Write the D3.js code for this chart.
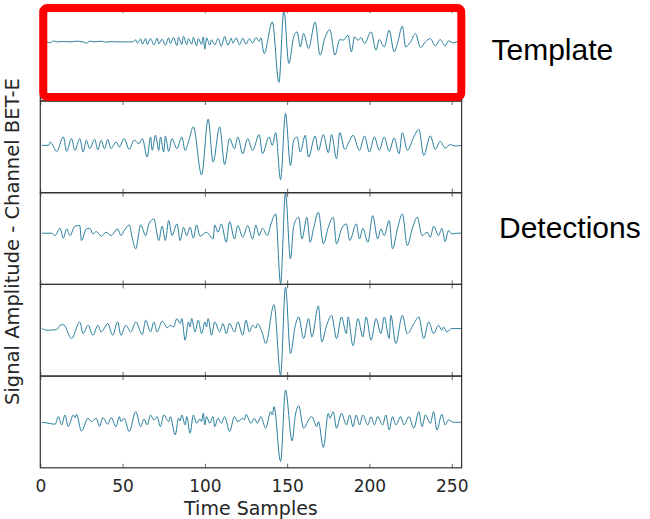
<!DOCTYPE html>
<html>
<head>
<meta charset="utf-8">
<script src="https://cdnjs.cloudflare.com/ajax/libs/d3/7.8.5/d3.min.js"></script>
<style>
  body { margin: 0; background: #fff; }
  .axis-label { font-family: "DejaVu Sans", sans-serif; font-size: 19px; fill: #262626; }
  .ylabel { font-size: 19.5px; }
  .tick-labels text { font-family: "DejaVu Sans", sans-serif; font-size: 17px; fill: #262626; }
  .side-text { font-family: "Liberation Sans", Arial, sans-serif; font-size: 30px; fill: #000; }
</style>
</head>
<body>
<div id="chart-area"></div>
<script>

// SVG size
var width = 650,
    height = 519;

// x axis
var xLimit = [0, 256];
var xTicks = [0, 50, 100, 150, 200, 250];

// waveforms, [sample, amplitude] read at the turning points
var template = [[1,0],[4,0],[6,-0.3],[8,0.3],[10,0],[14,0.1],[18,0],[22,0.2],[26,0],[28,-0.4],[30,0.2],[33,0],[37,0.2],[40,-0.1],[43,0.1],[46,0],[56,0],
  [58,0.6],[59,-0.4],[61,0.9],[62,-0.7],[64,1.0],[65,-0.8],[67,1.0],[69,-0.9],[71,1.1],[72,-0.6],[74,0.8],[76,-1.0],[78,1.2],[79,-0.5],[81,1.3],[83,-1.1],
  [84,1.4],[86,-0.8],[87,1.7],[89,-0.9],[90,1.0],[92,-0.7],[93,1.4],[95,-1.2],[96,1.0],[98,-0.8],[99,1.5],[100,-2.2],[101,1.2],[103,-1.0],[104,0.6],
  [106,-0.9],[108,1.0],[110,-1.3],[112,1.6],[114,-1.0],[116,1.1],[117,-0.4],[119,1.2],[121,-0.9],[123,1.1],[125,-0.7],[127,1.0],[129,-0.4],[131,1.3],
  [133,0.2],[134,1.2],[136,-3.5],[141,6.0],[145,-12.2],[148,9.6],[151,-6.5],[154,1.5],[156,3.0],[158,-1.5],[160,2.5],[163,-2.0],[167,6.0],[170,-4.0],
  [173,1.3],[176,3.7],[179,-4.0],[182,0.7],[184,0.5],[187,2.0],[189,-3.0],[191,1.5],[193,0.5],[195,1.3],[197,-0.5],[201,3.0],[204,-2.5],[206,0.7],
  [209,-1.5],[212,3.5],[215,-3.0],[217,-0.5],[220,4.7],[222,-1.5],[225,0],[228,2.5],[231,-1.7],[234,0],[237,1.0],[240,-1.2],[243,0.7],[246,-1.2],
  [248,0.3],[251,-0.3],[253,0],[256,0]];

var detection1 = [[1,0],[5,0],[6,1.0],[10,-1.8],[14,2.5],[16,-1.8],[19,2.0],[21,-1.5],[24,2.0],[26,-2.0],[28,1.5],[30,-1.0],[33,1.8],[35,-1.3],[37,1.5],
  [39,-1.0],[41,1.8],[43,-1.0],[46,1.0],[48,-0.5],[51,2.0],[54,-1.2],[57,1.5],[60,0.5],[62,2.0],[65,-3.5],[67,2.5],[68,-1.5],[70,3.0],[72,-1.5],[73,2.5],
  [75,-2.0],[76,2.8],[78,-1.8],[80,2.0],[83,-1.0],[86,2.5],[88,-1.5],[90,1.0],[93,5.5],[98,-8.8],[102,7.8],[105,-5.0],[109,5.5],[112,-5.7],[115,2.0],
  [118,-1.0],[120,2.5],[123,-2.5],[126,2.0],[129,-1.5],[133,3.2],[135,-2.5],[139,2.5],[141,0],[143,3.8],[146,-10.2],[149,9.5],[152,-6.0],[154,1.5],
  [156,2.5],[158,-2.0],[161,3.0],[163,-3.5],[167,2.8],[169,-1.5],[172,3.2],[175,-2.2],[177,3.2],[180,-4.0],[182,3.8],[185,-1.2],[188,1.5],[190,3.0],
  [194,-1.5],[197,2.8],[200,-2.0],[203,2.5],[206,-1.5],[209,2.5],[212,-1.8],[215,2.2],[218,-2.5],[220,3.8],[223,-1.5],[227,2.5],[230,4.8],[233,-3.0],
  [237,2.8],[240,-1.2],[243,1.2],[246,-0.8],[249,0.2],[252,-0.2],[256,0]];

var detection2 = [[1,0],[7,0],[9,-0.7],[12,1.5],[14,-1.5],[16,1.3],[18,-0.7],[21,2.1],[24,2.3],[25,-2.2],[28,1.3],[30,1.5],[32,-0.2],[34,0.5],[37,-0.9],
  [40,0.3],[43,-0.7],[47,1.3],[49,-0.7],[51,0.8],[54,2.5],[56,-1.7],[58,-4.7],[61,2.5],[64,-0.7],[66,2.8],[69,4.3],[72,-2.2],[74,2.1],[76,-2.2],[78,3.8],
  [80,-0.7],[83,2.8],[85,-2.2],[87,1.8],[89,-0.7],[91,1.8],[93,-1.5],[95,2.5],[97,-0.9],[101,0.3],[105,-1.7],[106,2.5],[108,0.3],[110,2.8],[113,-2.7],
  [115,3.5],[118,-1.7],[120,2.3],[123,-1.2],[126,2.3],[129,-1.7],[131,2.5],[133,-0.7],[135,1.5],[138,-0.7],[140,2.5],[143,5.8],[146,-15.2],[149,12.1],
  [152,-7.7],[154,2.3],[157,4.8],[159,-1.7],[162,4.8],[164,-2.7],[166,1.3],[169,6.3],[172,-3.2],[175,1.8],[178,4.8],[180,-3.2],[183,1.3],[186,2.8],
  [188,-2.2],[192,2.8],[194,-1.7],[196,1.5],[199,-2.7],[202,5.3],[205,-1.7],[207,1.3],[209,-0.7],[212,3.8],[214,-4.7],[217,1.3],[220,5.8],[223,-3.7],
  [226,1.3],[229,4.8],[232,-0.7],[235,0.3],[237,-1.2],[239,2.1],[242,-0.7],[244,1.5],[246,-2.5],[248,0.8],[250,-0.2],[253,0],[256,0]];

var detection3 = [[1,0],[4,-0.5],[10,-0.3],[12,1.0],[14,1.2],[19,-3.0],[24,2.0],[26,-1.5],[29,1.0],[32,-2.0],[35,1.0],[37,-1.0],[41,1.5],[44,-2.0],
  [47,2.0],[49,-2.0],[52,1.0],[55,-1.0],[58,2.0],[62,-1.8],[64,2.5],[67,-1.0],[69,2.0],[71,-1.0],[74,2.2],[76,1.0],[77,0.2],[79,1.0],[81,0.5],[83,3.0],
  [85,1.5],[86,3.0],[88,-3.5],[90,2.0],[91,0.5],[92,3.0],[94,-1.0],[96,2.5],[98,-1.5],[100,2.0],[101,0.5],[102,3.0],[104,-2.0],[106,2.0],[109,-1.0],
  [111,1.5],[113,-1.5],[115,1.5],[118,-1.0],[120,2.0],[123,-2.0],[125,2.5],[127,-1.0],[129,1.0],[131,0.2],[132,1.5],[135,-1.5],[137,-4.5],[142,7.2],
  [146,-14.0],[149,12.5],[152,-7.5],[155,1.0],[157,3.5],[160,-3.0],[163,3.0],[165,-2.5],[169,6.8],[171,-4.0],[174,1.0],[177,4.0],[180,-3.0],[183,3.5],
  [186,-1.5],[187,3.5],[190,-5.2],[193,3.0],[196,-2.5],[198,3.5],[201,-3.5],[204,3.0],[207,-1.5],[209,3.5],[212,-3.0],[213,4.0],[216,-4.5],[220,4.0],
  [223,-1.5],[227,1.5],[230,3.5],[233,-3.0],[236,2.0],[239,-1.5],[242,1.0],[244,-0.5],[245,0.5],[247,-1.0],[250,0],[256,0]];

var detection4 = [[1,0],[4,-0.2],[9,-0.6],[11,1.7],[13,-0.8],[15,2.2],[17,-1.3],[20,2.2],[21,1.4],[22,2.4],[25,-2.6],[29,1.2],[31,0.2],[34,1.2],[36,-1.3],
  [38,1.4],[41,-0.6],[43,1.4],[46,-1.3],[48,1.7],[49,0.2],[51,1.2],[54,-2.8],[58,3.2],[61,-1.3],[63,1.0],[65,-0.8],[67,2.2],[69,0.7],[71,1.7],[73,-1.3],
  [75,2.2],[78,0.2],[79,1.7],[82,-3.8],[84,1.2],[85,0.4],[86,2.2],[88,-0.8],[89,1.7],[91,-3.3],[93,2.2],[95,-0.3],[97,1.0],[98,0.2],[99,2.7],[100,-0.8],
  [101,1.7],[103,-0.3],[105,1.7],[106,-1.3],[108,1.2],[110,-0.3],[112,1.7],[115,-2.8],[118,1.7],[120,0.2],[123,1.2],[124,0.7],[125,2.4],[128,-0.3],
  [130,1.2],[132,-0.3],[134,1.7],[137,-1.8],[140,3.2],[141,2.2],[142,4.7],[146,-11.8],[149,9.7],[153,-5.6],[155,2.2],[157,5.0],[160,-1.8],[163,0.7],
  [165,1.7],[168,-1.3],[169,0.2],[172,-7.6],[175,2.7],[176,1.2],[178,3.2],[180,-1.8],[183,2.7],[186,-0.8],[188,2.2],[190,-1.3],[192,2.2],[194,-0.8],
  [196,2.2],[199,-0.8],[201,1.7],[203,-0.8],[205,1.7],[208,-0.8],[210,2.2],[212,-2.3],[214,1.7],[216,-0.8],[219,1.7],[221,-0.8],[224,1.7],[227,-1.8],
  [230,3.2],[232,-1.3],[234,2.2],[237,-0.3],[239,3.2],[241,-2.3],[244,2.4],[246,-0.8],[248,0.7],[251,0],[256,0]];

// y limits of each panel, top to bottom
var yLimits = [[-17.8, 9.8], [-14.1, 13.2], [-15.4, 12.2], [-14.3, 13.3], [-13.7, 13.9]];

var traces = [template, detection1, detection2, detection3, detection4];

// layout
var plotLeft = 40.3, plotRight = 461.6, plotTop = 9.3, panelHeight = 91.7;
var plotBottom = plotTop + traces.length * panelHeight;

var svg = d3.select("#chart-area").append("svg")
    .attr("width", width)
    .attr("height", height);

var x = d3.scaleLinear()
    .domain(xLimit)
    .range([plotLeft, plotRight]);

traces.forEach(function(trace, i) {
  var y0 = plotTop + i * panelHeight,
      y1 = y0 + panelHeight;

  var y = d3.scaleLinear()
      .domain(yLimits[i])
      .range([y1, y0]);

  var line = d3.line()
      .x(function(d){ return x(d[0]); })
      .y(function(d){ return y(d[1]); })
      .curve(d3.curveMonotoneX);

  var panel = svg.append("g").attr("class", "panel");

  panel.append("path")
      .datum(trace)
      .attr("d", line)
      .attr("fill", "none")
      .attr("stroke", "#2a7f9e")
      .attr("stroke-width", 1)
      .attr("stroke-linejoin", "round");

  // inward ticks at top and bottom
  panel.append("g")
      .attr("transform", "translate(0," + y1 + ")")
      .call(d3.axisBottom(x).tickValues(xTicks).tickSize(-4).tickFormat(""))
      .call(function(g){ g.select(".domain").remove(); g.selectAll("line").attr("stroke", "#666"); });

  panel.append("g")
      .attr("transform", "translate(0," + y0 + ")")
      .call(d3.axisTop(x).tickValues(xTicks).tickSize(-4).tickFormat(""))
      .call(function(g){ g.select(".domain").remove(); g.selectAll("line").attr("stroke", "#666"); });

  panel.append("rect")
      .attr("x", plotLeft)
      .attr("y", y0)
      .attr("width", plotRight - plotLeft)
      .attr("height", panelHeight)
      .attr("fill", "none")
      .attr("stroke", "#333")
      .attr("stroke-width", 1.2);
});

// x tick labels
svg.append("g")
    .attr("class", "tick-labels")
    .attr("transform", "translate(0," + plotBottom + ")")
    .call(d3.axisBottom(x).tickValues(xTicks).tickSize(0).tickPadding(12))
    .call(function(g){ g.select(".domain").remove(); });

svg.append("text")
    .attr("class", "axis-label")
    .attr("x", (plotLeft + plotRight) / 2)
    .attr("y", 515)
    .attr("text-anchor", "middle")
    .text("Time Samples");

svg.append("text")
    .attr("class", "axis-label ylabel")
    .attr("transform", "translate(19,241.5) rotate(-90)")
    .attr("text-anchor", "middle")
    .text("Signal Amplitude - Channel BET-E");

// highlight box round the template
svg.append("rect")
    .attr("x", 43.3)
    .attr("y", 8)
    .attr("width", 418)
    .attr("height", 89)
    .attr("rx", 4)
    .attr("fill", "none")
    .attr("stroke", "#ff0000")
    .attr("stroke-width", 8);

svg.append("text")
    .attr("class", "side-text")
    .attr("x", 491.5)
    .attr("y", 60)
    .text("Template");

svg.append("text")
    .attr("class", "side-text")
    .attr("x", 499)
    .attr("y", 238.3)
    .text("Detections");

</script>
</body>
</html>
